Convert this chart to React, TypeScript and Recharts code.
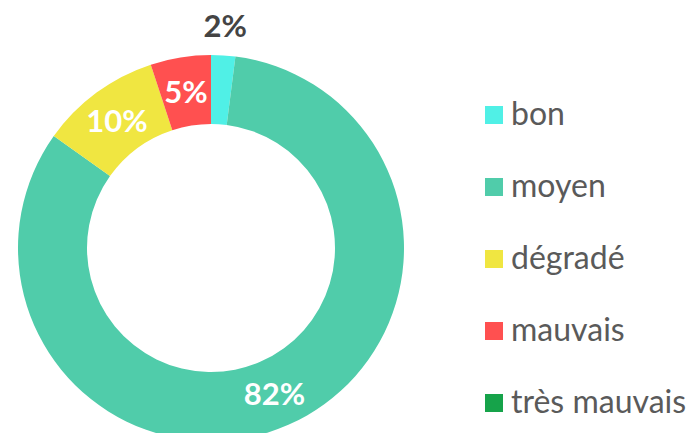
import React from 'react';
import { PieChart, Pie, Cell, Legend } from 'recharts';

const CATEGORIES = ['bon', 'moyen', 'dégradé', 'mauvais', 'très mauvais'];
const VALUES = [2, 82, 10, 5, 0];
const COLORS = ['#50F0E6', '#50CCAA', '#F0E641', '#FF5050', '#16A34A'];

const FONT = 'Lato, "Open Sans", sans-serif';

const data = CATEGORIES.map((name, i) => ({ name, value: VALUES[i] }));

const RADIAN = Math.PI / 180;

const renderLabel = (props: any) => {
  const { cx, cy, midAngle, innerRadius, outerRadius, value } = props;
  if (!value) return null;
  const small = value < 3;
  const r = small ? outerRadius + 30 : (innerRadius + outerRadius) / 2;
  const x = cx + r * Math.cos(-midAngle * RADIAN);
  const y = cy + r * Math.sin(-midAngle * RADIAN);
  return (
    <text
      x={x}
      y={y}
      fill={small ? '#444444' : '#ffffff'}
      textAnchor="middle"
      dominantBaseline="central"
      fontSize={31}
      fontWeight={700}
      fontFamily={FONT}
    >
      {`${value}%`}
    </text>
  );
};

const renderLegend = (props: any) => {
  const items = [...(props.payload || [])].sort(
    (a: any, b: any) => CATEGORIES.indexOf(a.value) - CATEGORIES.indexOf(b.value)
  );
  return (
    <div style={{ fontFamily: FONT }}>
      {items.map((entry: any) => (
        <div
          key={entry.value}
          style={{ display: 'flex', alignItems: 'center', height: 72 }}
        >
          <div
            style={{ width: 18, height: 18, background: entry.color, marginRight: 8, flexShrink: 0 }}
          />
          <span style={{ fontSize: 32, color: '#5a5a5a', whiteSpace: 'nowrap', lineHeight: '32px', marginTop: -4 }}>
            {entry.value}
          </span>
        </div>
      ))}
    </div>
  );
};

export default function App() {
  return (
    <div style={{ position: 'absolute', left: 0, top: 0, width: 693, height: 433, background: '#fff' }}>
      <PieChart width={693} height={433} margin={{ top: 0, right: 0, bottom: 0, left: 0 }}>
        <Pie
          data={data}
          dataKey="value"
          nameKey="name"
          cx={211}
          cy={248}
          innerRadius={124}
          outerRadius={193}
          startAngle={90}
          endAngle={-270}
          stroke="none"
          labelLine={false}
          label={renderLabel}
          isAnimationActive={false}
        >
          {data.map((entry, index) => (
            <Cell key={`cell-${index}`} fill={COLORS[index % COLORS.length]} />
          ))}
        </Pie>
        <Legend
          layout="vertical"
          content={renderLegend}
          wrapperStyle={{ left: 485, top: 79, width: 210 }}
        />
      </PieChart>
    </div>
  );
}
